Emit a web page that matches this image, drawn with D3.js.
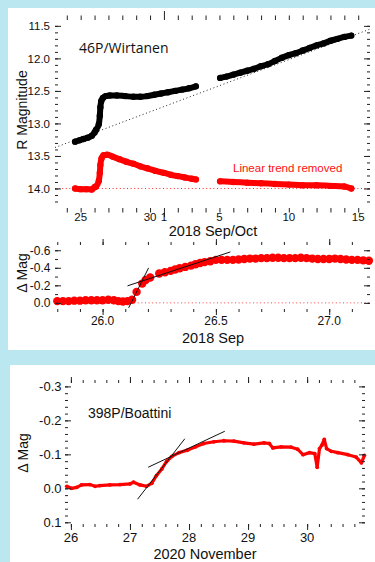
<!DOCTYPE html>
<html>
<head>
<meta charset="utf-8">
<script src="https://cdn.jsdelivr.net/npm/d3@7"></script>
<style>
  html, body { margin: 0; padding: 0; background: #bbe7f0; }
  svg { display: block; }
  text { font-family: "Liberation Sans", Arial, sans-serif; fill: #111; }
</style>
</head>
<body>
<svg id="svg" width="375" height="562"></svg>
<script>
// ---- data (days of Sep 2018; Oct d = 30 + d) ----
const blackSep = [[24.6,13.28],[24.9,13.26],[25.2,13.24],[25.5,13.22],[25.8,13.19],[26.0,13.14],[26.1,13.10],
  [26.31,13.01],[26.38,12.88],[26.42,12.75],[26.48,12.66],[26.6,12.61],[26.8,12.58],[27.1,12.57],[27.6,12.57],
  [28.2,12.58],[28.8,12.59],[29.3,12.59],[29.8,12.58],[30.3,12.56],[30.8,12.54],[31.3,12.52],[31.8,12.50],
  [32.3,12.48],[32.8,12.46],[33.3,12.43]];
const blackOct = [[35.05,12.30],[35.5,12.28],[36.0,12.25],[36.5,12.22],[37.0,12.19],[37.5,12.16],[38.0,12.12],
  [38.5,12.09],[39.0,12.04],[39.5,11.99],[40.0,11.95],[40.5,11.92],[41.0,11.88],[41.5,11.84],[42.0,11.80],
  [42.5,11.77],[43.0,11.73],[43.5,11.70],[44.0,11.67],[44.5,11.65]];
const redSep = [[24.6,14.0],[25.0,14.01],[25.4,14.01],[25.8,14.015],[26.0,13.98],[26.1,13.97],[26.31,13.88],
  [26.38,13.76],[26.42,13.64],[26.5,13.54],[26.65,13.49],[26.9,13.48],[27.3,13.51],[27.8,13.55],[28.3,13.59],
  [28.8,13.62],[29.3,13.66],[29.8,13.69],[30.4,13.73],[31.0,13.76],[31.5,13.79],[32.0,13.81],[32.5,13.83],
  [33.0,13.85],[33.3,13.86]];
const redOct = [[35.05,13.89],[36.0,13.90],[37.0,13.91],[38.0,13.92],[39.0,13.93],[40.0,13.94],[41.0,13.95],
  [42.0,13.95],[43.0,13.96],[44.0,13.97],[44.5,14.00]];
const trend = [[23.15,13.37],[45.85,11.55]];
const topXTicks = [25, 30, 31, 35, 40, 45];
const topXLabels = ["25", "30", "1", "5", "10", "15"];
const topYTicks = [11.5, 12.0, 12.5, 13.0, 13.5, 14.0];
const topYLabels = ["11.5", "12.0", "12.5", "13.0", "13.5", "14.0"];

// zoom on the outburst, 2018 Sep 26
const zoomT = [25.80,25.825,25.85,25.875,25.90,25.925,25.95,25.975,26.00,26.025,26.05,26.07,26.09,26.11,26.13,
  26.15,26.175,26.19,26.21,26.25,26.275,26.30,26.32,26.34,26.365,26.39,26.41,26.43,26.45,26.475,26.50,26.525,
  26.55,26.575,26.60,26.625,26.65,26.675,26.70,26.725,26.75,26.775,26.80,26.825,26.85,26.875,26.90,26.925,
  26.95,26.975,27.00,27.025,27.05,27.075,27.10,27.125,27.15,27.175];
const zoomMag = [-0.02,-0.02,-0.02,-0.025,-0.025,-0.03,-0.03,-0.03,-0.03,-0.035,-0.03,-0.02,-0.015,-0.02,-0.035,
  -0.125,-0.22,-0.26,-0.29,-0.335,-0.35,-0.365,-0.38,-0.395,-0.41,-0.425,-0.44,-0.455,-0.465,-0.475,-0.49,-0.49,
  -0.49,-0.49,-0.495,-0.50,-0.505,-0.505,-0.51,-0.51,-0.515,-0.515,-0.51,-0.51,-0.51,-0.515,-0.51,-0.505,
  -0.50,-0.50,-0.50,-0.505,-0.50,-0.495,-0.49,-0.49,-0.485,-0.48];
const zoomFit1 = [[26.115,0.057],[26.203,-0.399]];
const zoomFit2 = [[26.110,-0.194],[26.564,-0.581]];
const midXTicks = [26.0, 26.5, 27.0];
const midXLabels = ["26.0", "26.5", "27.0"];
const midYTicks = [-0.6, -0.4, -0.2, 0.0];
const midYLabels = ["-0.6", "-0.4", "-0.2", "0.0"];

// 398P/Boattini, 2020 November
const boatT = [25.93,26.01,26.1,26.18,26.32,26.41,26.49,26.66,26.83,27.0,27.06,27.17,27.28,27.37,27.45,27.54,
  27.62,27.71,27.83,27.97,28.11,28.25,28.42,28.59,28.76,28.93,29.1,29.27,29.36,29.42,29.56,29.73,29.84,29.93,
  30.04,30.13,30.17,30.21,30.25,30.29,30.33,30.41,30.52,30.69,30.83,30.92,30.97];
const boatMag = [-0.006,0.0,-0.003,-0.01,-0.011,-0.006,-0.008,-0.01,-0.011,-0.013,-0.018,-0.01,-0.006,-0.015,
  -0.038,-0.057,-0.079,-0.094,-0.105,-0.112,-0.122,-0.132,-0.137,-0.14,-0.139,-0.134,-0.13,-0.134,-0.132,-0.119,
  -0.122,-0.121,-0.115,-0.099,-0.105,-0.102,-0.062,-0.117,-0.127,-0.144,-0.117,-0.109,-0.105,-0.099,-0.092,
  -0.075,-0.097];
const boatFit1 = [[27.129,0.032],[27.929,-0.146]];
const boatFit2 = [[27.308,-0.062],[28.606,-0.168]];
const botXTicks = [26, 27, 28, 29, 30];
const botXLabels = ["26", "27", "28", "29", "30"];
const botYTicks = [-0.3, -0.2, -0.1, 0.0, 0.1];
const botYLabels = ["-0.3", "-0.2", "-0.1", "0.0", "0.1"];

let svg = d3.select("svg");

// white panels
svg.append("rect").attr("x", 8).attr("y", 8).attr("width", 367).attr("height", 342).attr("fill", "white");
svg.append("rect").attr("x", 10).attr("y", 365).attr("width", 365).attr("height", 197).attr("fill", "white");

function tickSet(g, x, y, vals, len, isX) {
  let [x0, x1] = x.range(), [y1, y0] = y.range();
  let add = (axis, tr) => {
    g.append("g").attr("transform", tr)
      .call(axis.tickValues(vals).tickSize(-len).tickFormat(""))
      .call(a => a.select(".domain").remove())
      .selectAll("line").attr("stroke", "#222");
  };
  if (isX) {
    add(d3.axisBottom(x), `translate(0,${y1})`);
    add(d3.axisTop(x), `translate(0,${y0})`);
  } else {
    add(d3.axisLeft(y), `translate(${x0},0)`);
    add(d3.axisRight(y), `translate(${x1},0)`);
  }
}

function frame(g, x, y) {
  let [x0, x1] = x.range(), [y1, y0] = y.range();
  g.append("rect").attr("x", x0).attr("y", y0).attr("width", x1 - x0).attr("height", y1 - y0)
    .attr("fill", "none").attr("stroke", "#222").attr("stroke-width", 1.1);
}

function labels(g, x, y, xt, xl, yt, yl, xBase, yEnd, size) {
  g.append("g").selectAll("text").data(xt).join("text")
    .attr("x", d => x(d)).attr("y", xBase).attr("text-anchor", "middle")
    .style("font-size", size + "px").text((d, i) => xl[i]);
  g.append("g").selectAll("text").data(yt).join("text")
    .attr("x", yEnd).attr("y", d => y(d)).attr("dy", "0.36em").attr("text-anchor", "end")
    .style("font-size", size + "px").text((d, i) => yl[i]);
}

function title(g, txt, x, y, size, rotate) {
  let t = g.append("text").attr("text-anchor", "middle").style("font-size", size + "px").text(txt);
  if (rotate) t.attr("transform", `translate(${x},${y}) rotate(-90)`);
  else t.attr("x", x).attr("y", y);
  return t;
}

// ---------- top panel ----------
let g1 = svg.append("g");
let x1 = d3.scaleLinear().domain([23.15, 45.85]).range([55, 370]);
let y1 = d3.scaleLinear().domain([11.41, 14.3]).range([20, 208]);
let line1 = d3.line().x(d => x1(d[0])).y(d => y1(d[1]));

g1.append("path").datum(trend).attr("d", line1).attr("fill", "none")
  .attr("stroke", "#222").attr("stroke-width", 1).attr("stroke-dasharray", "1,2.6");
g1.append("path").datum([[23.15, 14.0], [45.85, 14.0]]).attr("d", line1).attr("fill", "none")
  .attr("stroke", "#ff2020").attr("stroke-width", 1).attr("stroke-dasharray", "1,2.6");

[[blackSep, "black"], [blackOct, "black"], [redSep, "red"], [redOct, "red"]].forEach(([seg, c]) => {
  g1.append("path").datum(seg).attr("d", line1.curve(d3.curveMonotoneX)).attr("fill", "none")
    .attr("stroke", c).attr("stroke-width", 6).attr("stroke-linecap", "round").attr("stroke-linejoin", "round");
  g1.append("g").selectAll("circle").data(seg).join("circle")
    .attr("cx", d => x1(d[0])).attr("cy", d => y1(d[1])).attr("r", 3.2).attr("fill", c);
});

frame(g1, x1, y1);
tickSet(g1, x1, y1, d3.range(24, 46).filter(d => d != 31), 4.5, true);
tickSet(g1, x1, y1, [31], 9, true);
tickSet(g1, x1, y1, d3.range(11.5, 14.25, 0.1), 3, false);
tickSet(g1, x1, y1, topYTicks, 6, false);
labels(g1, x1, y1, topXTicks, topXLabels, topYTicks, topYLabels, 220.5, 50, 11.5);
title(g1, "2018 Sep/Oct", 213, 236, 14.5);
title(g1, "R Magnitude", 27, 110, 14, true);
g1.append("text").attr("x", 79).attr("y", 53).style("font-family", "'Open Sans', sans-serif")
  .style("font-size", "14px").text("46P/Wirtanen");
g1.append("text").attr("x", 233).attr("y", 172).style("font-size", "11.5px").style("fill", "#ff1010")
  .text("Linear trend removed");

// ---------- middle panel ----------
let g2 = svg.append("g");
let x2 = d3.scaleLinear().domain([25.79, 27.18]).range([55, 370]);
let y2 = d3.scaleLinear().domain([-0.66, 0.07]).range([245, 309]);
let line2 = d3.line().x(d => x2(d[0])).y(d => y2(d[1]));

g2.append("path").datum([[25.79, 0], [27.18, 0]]).attr("d", line2).attr("fill", "none")
  .attr("stroke", "#ff4040").attr("stroke-width", 1).attr("stroke-dasharray", "1,2.6");
g2.append("g").selectAll("circle").data(zoomT).join("circle")
  .attr("cx", d => x2(d)).attr("cy", (d, i) => y2(zoomMag[i])).attr("r", 4.2).attr("fill", "red");
[zoomFit1, zoomFit2].forEach(f => {
  g2.append("path").datum(f).attr("d", line2).attr("stroke", "#111").attr("stroke-width", 1);
});
frame(g2, x2, y2);
tickSet(g2, x2, y2, d3.range(25.8, 27.19, 0.1), 3, true);
tickSet(g2, x2, y2, midXTicks, 6, true);
tickSet(g2, x2, y2, d3.range(-0.6, 0.06, 0.1), 3, false);
tickSet(g2, x2, y2, midYTicks, 6, false);
labels(g2, x2, y2, midXTicks, midXLabels, midYTicks, midYLabels, 325, 50.5, 12);
title(g2, "2018 Sep", 213, 342.5, 14.5);
title(g2, "\u0394 Mag", 27, 273, 14, true);

// ---------- bottom panel ----------
let g3 = svg.append("g");
let x3 = d3.scaleLinear().domain([25.9, 30.98]).range([65, 365]);
let y3 = d3.scaleLinear().domain([-0.31, 0.105]).range([383, 524]);
let line3 = d3.line().x((d, i) => x3(d)).y((d, i) => y3(boatMag[i]));

g3.append("path").datum(boatT).attr("d", line3).attr("fill", "none")
  .attr("stroke", "red").attr("stroke-width", 3.2).attr("stroke-linejoin", "round");
g3.append("g").selectAll("circle").data(boatT).join("circle")
  .attr("cx", d => x3(d)).attr("cy", (d, i) => y3(boatMag[i])).attr("r", 1.9).attr("fill", "red");
let fit3 = d3.line().x(d => x3(d[0])).y(d => y3(d[1]));
[boatFit1, boatFit2].forEach(f => {
  g3.append("path").datum(f).attr("d", fit3).attr("stroke", "#111").attr("stroke-width", 1);
});
frame(g3, x3, y3);
tickSet(g3, x3, y3, d3.range(26, 31, 0.2), 3, true);
tickSet(g3, x3, y3, botXTicks, 6, true);
tickSet(g3, x3, y3, d3.range(-0.3, 0.11, 0.02), 3, false);
tickSet(g3, x3, y3, botYTicks, 6, false);
labels(g3, x3, y3, botXTicks, botXLabels, botYTicks, botYLabels, 541.5, 61.5, 13);
title(g3, "2020 November", 205, 558.5, 14.5);
title(g3, "\u0394 Mag", 28, 453, 14, true);
g3.append("text").attr("x", 88).attr("y", 418).style("font-size", "14px").text("398P/Boattini");
</script>
</body>
</html>
